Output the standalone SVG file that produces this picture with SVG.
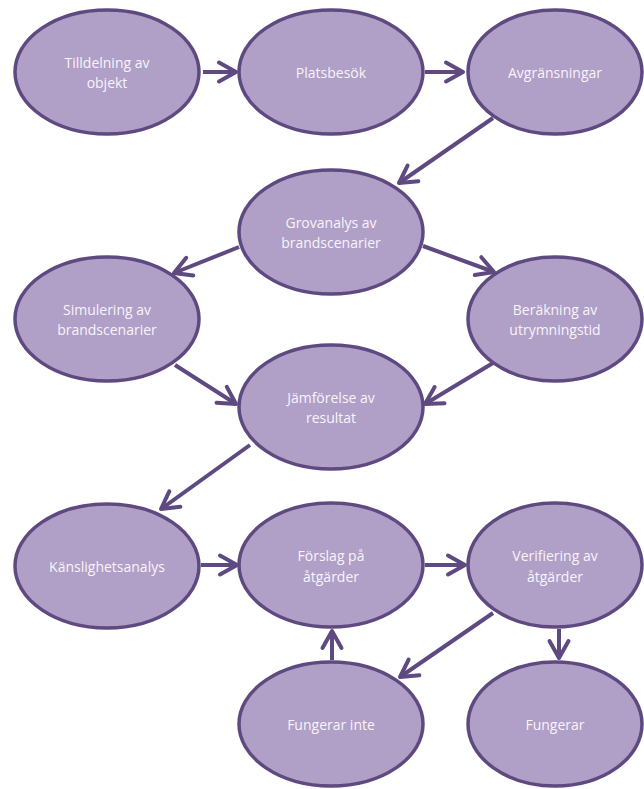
<svg xmlns="http://www.w3.org/2000/svg" width="644" height="789" viewBox="0 0 644 789">
  <defs>
    <style>
      .node ellipse { fill: #b09fc6; stroke: #5e4a80; stroke-width: 3.5; }
      .node text { fill: #f8f4fb; font-family: "Open Sans", "Liberation Sans", Arial, sans-serif; font-size: 14px; text-anchor: middle; dominant-baseline: central; }
      .edges line { stroke: #5e4a80; stroke-width: 4; marker-end: url(#arrow); }
    </style>
    <marker id="arrow" viewBox="0 0 22 22" refX="19" refY="11" markerWidth="22" markerHeight="22" markerUnits="userSpaceOnUse" orient="auto" overflow="visible">
      <path d="M2,1.5 L19,11 L2,20.5" fill="none" stroke="#5e4a80" stroke-width="4" stroke-linecap="round" stroke-linejoin="round"/>
    </marker>
  </defs>
  <rect width="644" height="789" fill="#ffffff"/>

  <g class="edges">
    <line x1="203" y1="72" x2="236" y2="72"/>
    <line x1="425" y1="72" x2="463" y2="72"/>
    <line x1="493" y1="118" x2="399" y2="183"/>
    <line x1="239" y1="247" x2="174" y2="273"/>
    <line x1="423" y1="246" x2="494" y2="272"/>
    <line x1="175" y1="365" x2="236" y2="404"/>
    <line x1="493" y1="363" x2="425" y2="404"/>
    <line x1="250" y1="445" x2="161" y2="509"/>
    <line x1="201" y1="565" x2="237" y2="565"/>
    <line x1="425" y1="565" x2="465" y2="565"/>
    <line x1="493" y1="613" x2="400" y2="677"/>
    <line x1="559" y1="629" x2="559" y2="658"/>
    <line x1="332" y1="660" x2="332" y2="631"/>
  </g>

  <g id="n1" class="node">
    <ellipse cx="107" cy="72" rx="92" ry="62"/>
    <text x="107" y="62">Tilldelning av</text>
    <text x="107" y="82">objekt</text>
  </g>
  <g id="n2" class="node">
    <ellipse cx="331" cy="72" rx="92" ry="62"/>
    <text x="331" y="72">Platsbesök</text>
  </g>
  <g id="n3" class="node">
    <ellipse cx="555" cy="72" rx="87" ry="62"/>
    <text x="555" y="72">Avgränsningar</text>
  </g>
  <g id="n4" class="node">
    <ellipse cx="331" cy="232" rx="92" ry="62"/>
    <text x="331" y="222">Grovanalys av</text>
    <text x="331" y="242">brandscenarier</text>
  </g>
  <g id="n5" class="node">
    <ellipse cx="107" cy="319" rx="92" ry="62"/>
    <text x="107" y="309">Simulering av</text>
    <text x="107" y="329">brandscenarier</text>
  </g>
  <g id="n6" class="node">
    <ellipse cx="555" cy="319" rx="87" ry="62"/>
    <text x="555" y="309">Beräkning av</text>
    <text x="555" y="329">utrymningstid</text>
  </g>
  <g id="n7" class="node">
    <ellipse cx="331" cy="407" rx="92" ry="62"/>
    <text x="331" y="397">Jämförelse av</text>
    <text x="331" y="417">resultat</text>
  </g>
  <g id="n8" class="node">
    <ellipse cx="107" cy="566" rx="92" ry="62"/>
    <text x="107" y="566">Känslighetsanalys</text>
  </g>
  <g id="n9" class="node">
    <ellipse cx="331" cy="565" rx="92" ry="62"/>
    <text x="331" y="555">Förslag på</text>
    <text x="331" y="576">åtgärder</text>
  </g>
  <g id="n10" class="node">
    <ellipse cx="555" cy="565" rx="87" ry="62"/>
    <text x="555" y="555">Verifiering av</text>
    <text x="555" y="576">åtgärder</text>
  </g>
  <g id="n11" class="node">
    <ellipse cx="331" cy="724" rx="92" ry="62"/>
    <text x="331" y="724">Fungerar inte</text>
  </g>
  <g id="n12" class="node">
    <ellipse cx="555" cy="724" rx="87" ry="62"/>
    <text x="555" y="724">Fungerar</text>
  </g>
</svg>
